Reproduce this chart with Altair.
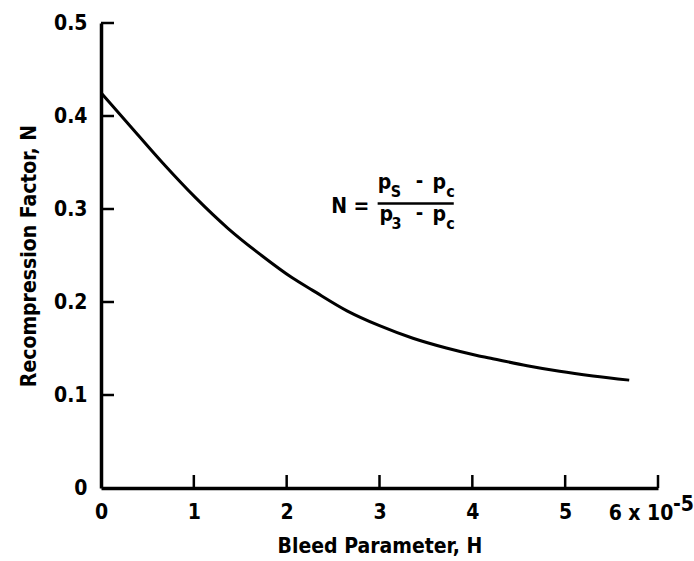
import altair as alt
import pandas as pd

# Curve (H in units of 1e-5)
h_values = [0.0, 0.29, 0.66, 1.01, 1.37, 1.73, 2.06, 2.28, 2.65, 3.0, 3.36, 3.72, 4.05, 4.22, 4.59, 4.94, 5.30, 5.69]
n_values = [0.425, 0.392, 0.350, 0.313, 0.279, 0.250, 0.226, 0.2125, 0.1905, 0.1745, 0.161, 0.1505, 0.1425, 0.139, 0.1315, 0.1255, 0.1205, 0.116]

x_tick_values = [1, 2, 3, 4, 5, 6]
x_label_values = [0, 1, 2, 3, 4, 5]
y_tick_values = [0.1, 0.2, 0.3, 0.4, 0.5]
y_label_values = [0, 0.1, 0.2, 0.3, 0.4, 0.5]

# formula annotation pieces (position in data units, text, font size)
formula_h = [2.48, 2.98, 3.12, 3.39, 3.57, 3.72, 3.00, 3.13, 3.39, 3.57, 3.72]
formula_n = [0.296, 0.322, 0.313, 0.324, 0.322, 0.313, 0.287, 0.278, 0.289, 0.287, 0.278]
formula_text = ["N =", "p", "S", "-", "p", "c", "p", "3", "-", "p", "c"]
formula_size = [21, 21, 16, 20, 21, 16, 21, 16, 20, 21, 16]
bar_h = [2.98]
bar_h2 = [3.80]
bar_n = [0.306]

FONT = "DejaVu Sans Condensed, Roboto Condensed, Liberation Sans Narrow, Roboto, sans-serif"
FS = 21
FW = "bold"

xscale = alt.Scale(domain=[0, 6], nice=False, zero=False)
yscale = alt.Scale(domain=[0, 0.5], nice=False, zero=False)

curve_df = pd.DataFrame({"h": h_values, "n": n_values})
line = alt.Chart(curve_df).mark_line(color="black", strokeWidth=3, interpolate="monotone").encode(
    x=alt.X("h:Q", scale=xscale,
            axis=alt.Axis(values=x_label_values, ticks=False, labelPadding=13, format="d",
                          labelFlush=False,
                          labelFontSize=FS, labelFont=FONT, labelColor="black", labelFontWeight=FW,
                          title="Bleed Parameter, H", titleFontSize=FS, titleFont=FONT,
                          titleFontWeight=FW, titleColor="black", titlePadding=13,
                          domainColor="black", domainWidth=3.5, grid=False)),
    y=alt.Y("n:Q", scale=yscale,
            axis=alt.Axis(values=y_label_values, ticks=False, labelPadding=14,
                          labelFlush=False,
                          labelFontSize=FS, labelFont=FONT, labelColor="black", labelFontWeight=FW,
                          labelExpr="datum.value == 0 ? '0' : format(datum.value, '.1f')",
                          title="Recompression Factor, N", titleFontSize=FS, titleFont=FONT,
                          titleFontWeight=FW, titleColor="black", titlePadding=14,
                          domainColor="black", domainWidth=3.5, grid=False)),
)

xt = alt.Chart(pd.DataFrame({"h": x_tick_values})).mark_rule(color="black", strokeWidth=2.5).encode(
    x=alt.X("h:Q", scale=xscale),
    y=alt.value(465), y2=alt.value(452),
)
yt = alt.Chart(pd.DataFrame({"n": y_tick_values})).mark_rule(color="black", strokeWidth=2.5).encode(
    y=alt.Y("n:Q", scale=yscale),
    x=alt.value(0), x2=alt.value(13),
)

formula_df = pd.DataFrame({"h": formula_h, "n": formula_n, "t": formula_text, "s": formula_size})
formula = alt.Chart(formula_df).mark_text(align="left", baseline="alphabetic", font=FONT, fontWeight=FW, color="black").encode(
    x=alt.X("h:Q", scale=xscale),
    y=alt.Y("n:Q", scale=yscale),
    text="t:N",
    size=alt.Size("s:Q", scale=None, legend=None),
)
bar = alt.Chart(pd.DataFrame({"h": bar_h, "h2": bar_h2, "n": bar_n})).mark_rule(color="black", strokeWidth=2.5).encode(
    x=alt.X("h:Q", scale=xscale), x2="h2:Q",
    y=alt.Y("n:Q", scale=yscale),
)

six_df = pd.DataFrame({"h": [6, 6], "n": [0, 0], "t": ["6 x 10", "-5"]})
six_a = alt.Chart(six_df.iloc[[0]]).mark_text(align="center", baseline="top", dx=-17, dy=15, fontSize=FS, fontWeight=FW, font=FONT, color="black").encode(
    x=alt.X("h:Q", scale=xscale), y=alt.Y("n:Q", scale=yscale), text="t:N")
six_b = alt.Chart(six_df.iloc[[1]]).mark_text(align="left", baseline="top", dx=15, dy=6, fontSize=FS, fontWeight=FW, font=FONT, color="black").encode(
    x=alt.X("h:Q", scale=xscale), y=alt.Y("n:Q", scale=yscale), text="t:N")

chart = alt.layer(line, xt, yt, bar, formula, six_a, six_b).properties(
    width=557, height=465,
    autosize=alt.AutoSizeParams(type="none"),
    padding={"left": 101, "top": 23, "right": 36, "bottom": 73},
    background="white",
).configure_view(stroke=None)

chart.save("out.html", embed_options={"renderer": "svg", "actions": False})
